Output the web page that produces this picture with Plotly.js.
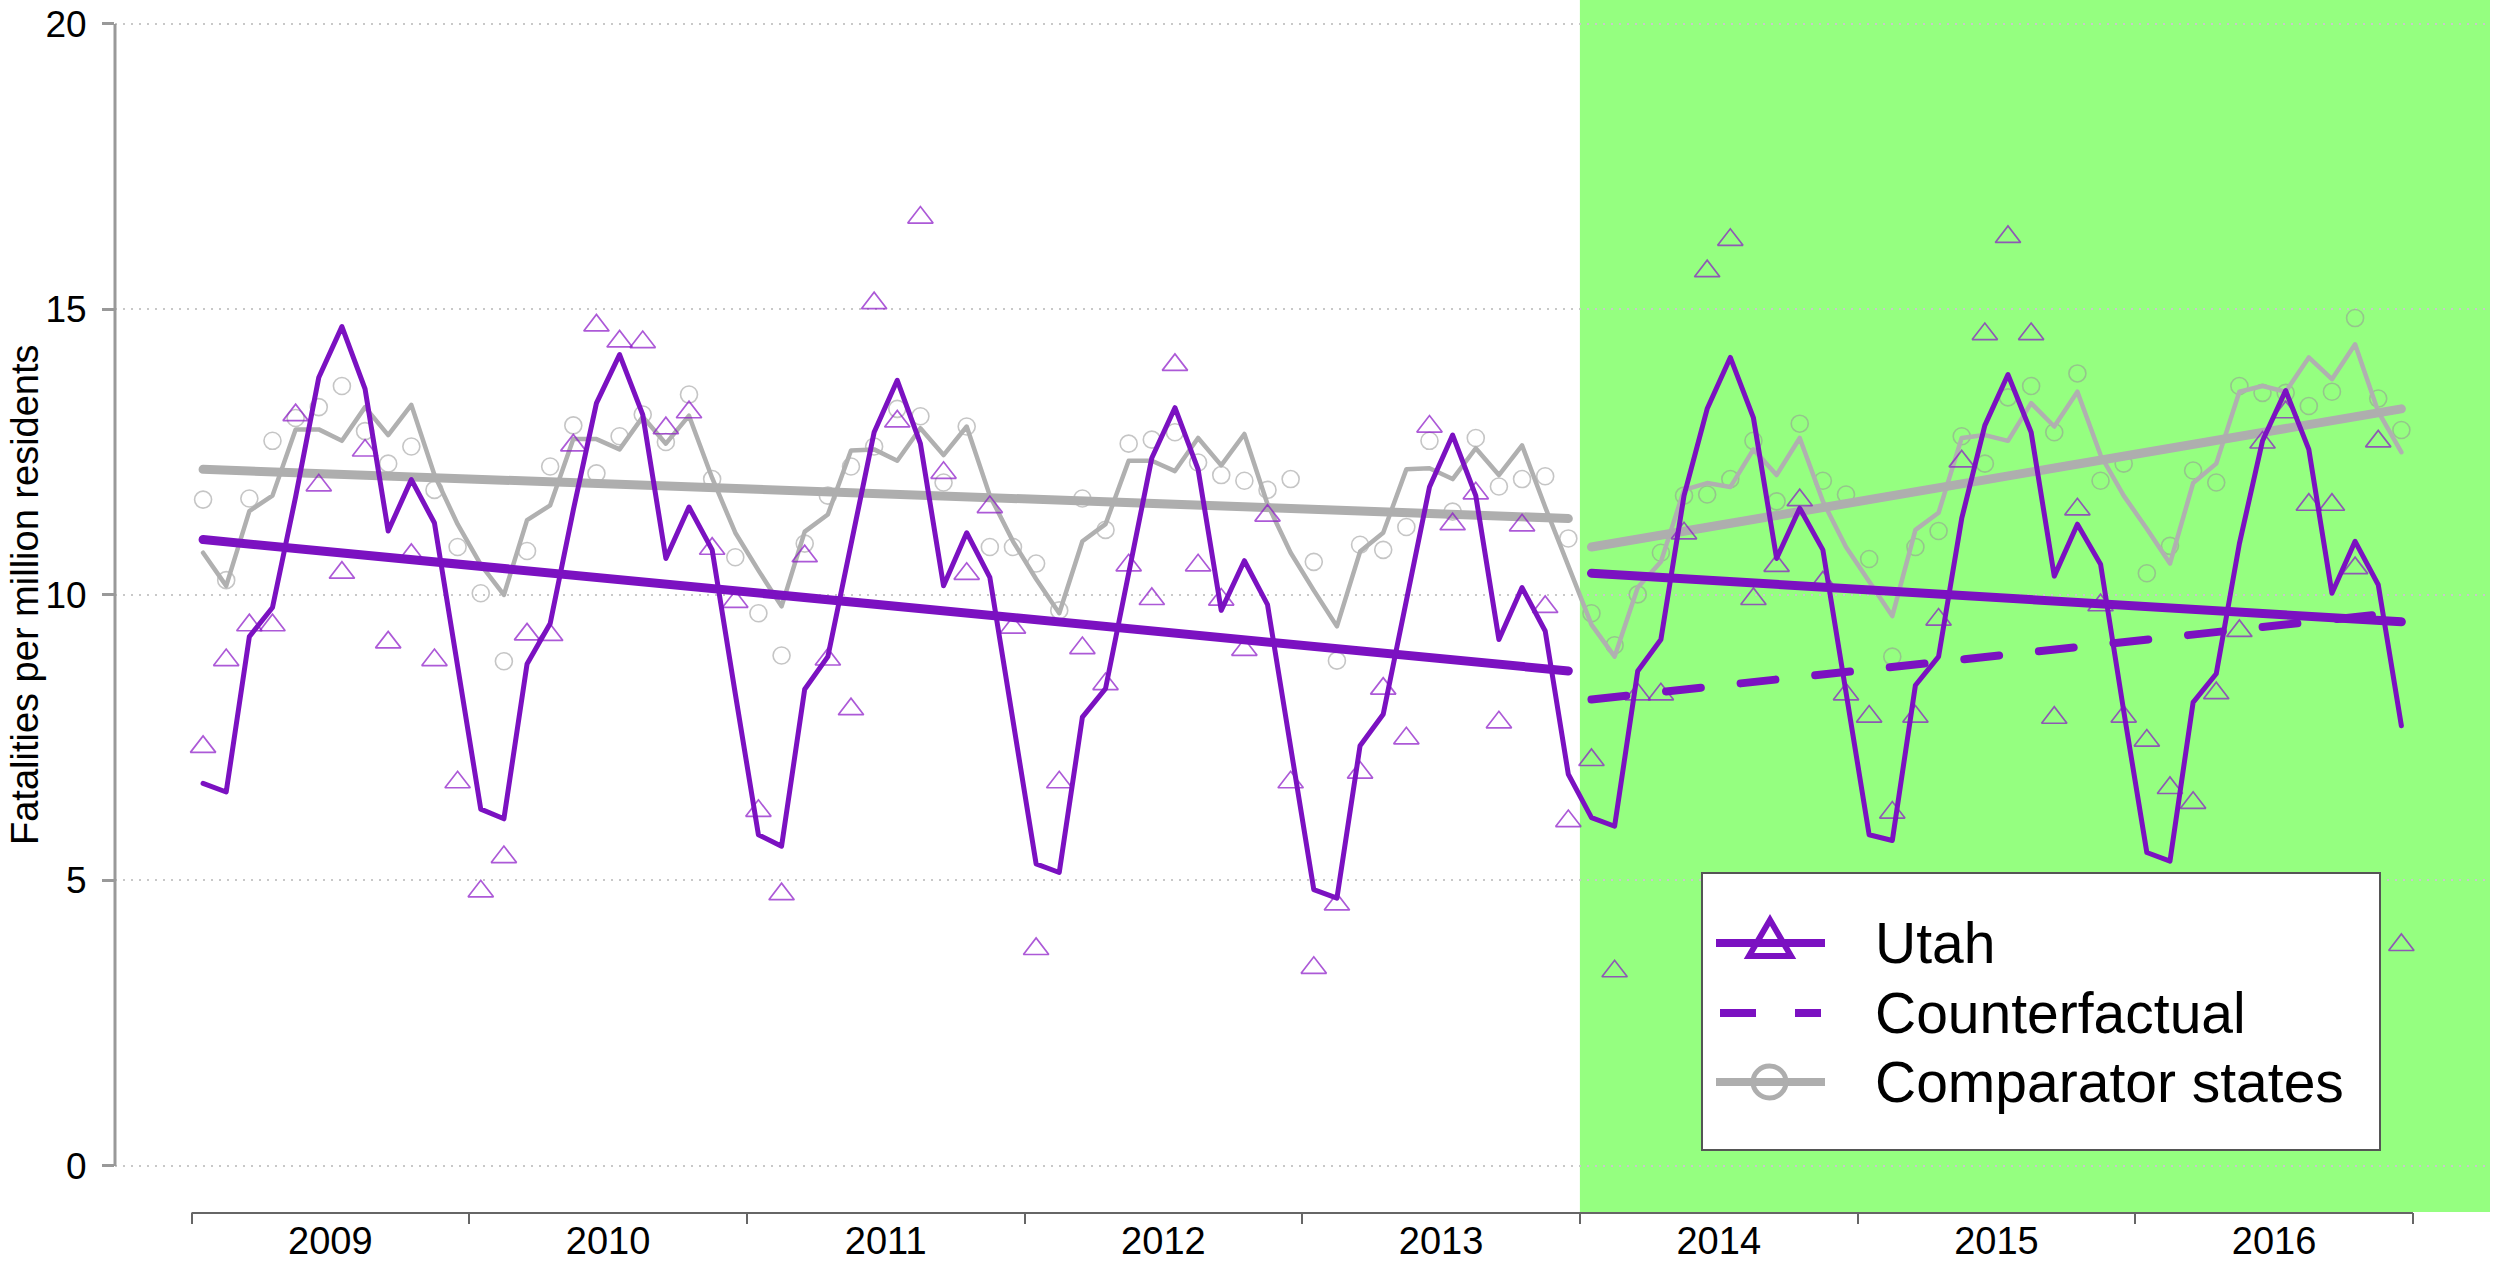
<!DOCTYPE html>
<html>
<head>
<meta charset="utf-8">
<script src="https://cdn.plot.ly/plotly-3.0.1.min.js"></script>
<style>
html,body{margin:0;padding:0;background:#ffffff;}
#chart{width:2503px;height:1261px;}
.js-line{stroke-linecap:round;stroke-linejoin:round;}
</style>
</head>
<body>
<div id="chart"></div>
<script>
// ---------------- DATA ----------------
const years = [2009, 2010, 2011, 2012, 2013, 2014, 2015, 2016];
const yearLabels = ['2009', '2010', '2011', '2012', '2013', '2014', '2015', '2016'];
const interventionYear = 2014;

// Utah, observed monthly fatalities per million (triangles)
const utahObserved = [
  7.34, 8.86, 9.47, 9.47, 13.15, 11.92, 10.39, 12.53, 9.17, 10.70, 8.86, 6.72,
  4.81, 5.41, 9.31, 9.30, 12.62, 14.72, 14.44, 14.43, 12.92, 13.20, 10.81, 9.88,
  6.22, 4.76, 10.68, 8.87, 8.00, 15.11, 13.04, 16.61, 12.14, 10.37, 11.54, 9.43,
  3.80, 6.72, 9.07, 8.44, 10.52, 9.93, 14.03, 10.52, 9.92, 9.04, 11.39, 6.72,
  3.47, 4.58, 6.89, 8.36, 7.49, 12.95, 11.24, 11.78, 7.77, 11.22, 9.79, 6.04,
  7.11, 3.41, 8.26, 8.26, 11.08, 15.67, 16.22, 9.93, 10.51, 11.66, 10.22, 8.26,
  7.87, 6.19, 7.87, 9.57, 12.34, 14.57, 16.27, 14.57, 7.85, 11.50, 9.82, 7.87,
  7.45, 6.62, 6.36, 8.28, 9.37, 12.67, 13.20, 11.58, 11.58, 10.47, 12.69, 3.87
];

// Utah, fitted monthly model (solid purple line)
const utahFitted = [
  6.70, 6.55, 9.27, 9.78, 11.72, 13.81, 14.70, 13.61, 11.12, 12.02, 11.26, 8.77,
  6.25, 6.08, 8.79, 9.50, 11.49, 13.36, 14.21, 13.16, 10.64, 11.54, 10.79, 8.27,
  5.80, 5.60, 8.35, 8.92, 10.85, 12.85, 13.76, 12.65, 10.16, 11.09, 10.31, 7.81,
  5.29, 5.14, 7.86, 8.36, 10.33, 12.40, 13.28, 12.20, 9.73, 10.60, 9.83, 7.31,
  4.84, 4.69, 7.36, 7.91, 9.90, 11.89, 12.80, 11.74, 9.22, 10.13, 9.37, 6.86,
  6.10, 5.95, 8.67, 9.22, 11.74, 13.26, 14.16, 13.10, 10.64, 11.52, 10.79, 8.27,
  5.80, 5.70, 8.42, 8.92, 11.34, 12.97, 13.86, 12.85, 10.33, 11.24, 10.54, 7.97,
  5.49, 5.34, 8.12, 8.62, 10.90, 12.70, 13.58, 12.55, 10.03, 10.94, 10.18, 7.71
];

// Comparator states, observed (circles)
const comparatorObserved = [
  11.67, 10.26, 11.69, 12.70, 13.10, 13.29, 13.66, 12.87, 12.30, 12.60, 11.84, 10.84,
  10.03, 8.84, 10.77, 12.25, 12.97, 12.13, 12.78, 13.16, 12.68, 13.51, 12.03, 10.66,
  9.68, 8.94, 10.90, 11.74, 12.25, 12.60, 13.26, 13.13, 11.97, 12.95, 10.84, 10.84,
  10.55, 9.73, 11.69, 11.14, 12.65, 12.72, 12.85, 12.32, 12.10, 12.00, 11.84, 12.03,
  10.58, 8.85, 10.88, 10.79, 11.19, 12.70, 11.46, 12.75, 11.90, 12.03, 12.08, 10.99,
  9.68, 9.12, 10.01, 10.74, 11.74, 11.76, 12.03, 12.70, 11.64, 13.00, 12.00, 11.76,
  10.63, 8.92, 10.84, 11.12, 12.78, 12.30, 13.46, 13.66, 12.85, 13.88, 12.00, 12.30,
  10.38, 10.86, 12.18, 11.97, 13.66, 13.54, 13.54, 13.31, 13.56, 14.85, 13.44, 12.89
];

// Comparator states, fitted monthly model (thin grey line)
const comparatorFitted = [
  10.74, 10.16, 11.47, 11.74, 12.90, 12.90, 12.70, 13.29, 12.80, 13.33, 12.10, 11.24,
  10.53, 10.00, 11.31, 11.57, 12.73, 12.73, 12.55, 13.12, 12.65, 13.14, 12.05, 11.09,
  10.43, 9.80, 11.11, 11.41, 12.53, 12.55, 12.35, 12.92, 12.45, 12.95, 11.74, 10.94,
  10.28, 9.68, 10.94, 11.24, 12.35, 12.35, 12.17, 12.75, 12.27, 12.82, 11.59, 10.74,
  10.08, 9.45, 10.76, 11.09, 12.20, 12.22, 12.03, 12.57, 12.10, 12.62, 11.54, 10.53,
  9.48, 8.92, 10.13, 10.58, 11.84, 11.96, 11.89, 12.55, 12.10, 12.75, 11.64, 10.84,
  10.23, 9.63, 11.14, 11.44, 12.75, 12.80, 12.70, 13.36, 12.95, 13.56, 12.45, 11.74,
  11.16, 10.55, 11.96, 12.30, 13.56, 13.66, 13.56, 14.16, 13.78, 14.39, 13.21, 12.50
];

// Segmented trend lines (start value, end value) and the month index they span
const trendPreMonths = [0, 59];
const trendPostMonths = [60, 95];
const utahTrendPre = [10.97, 8.67];
const utahTrendPost = [10.38, 9.53];
const comparatorTrendPre = [12.20, 11.34];
const comparatorTrendPost = [10.84, 13.26];
const counterfactualTrend = [8.17, 9.70];

const yTickValues = [0, 5, 10, 15, 20];
const yAxisTitle = 'Fatalities per million residents';
const legendLabels = ['Utah', 'Counterfactual', 'Comparator states'];

// ---------------- STYLE / LAYOUT ----------------
const FONT = 'Liberation Sans, Arial, Helvetica, sans-serif';
const PURPLE = '#7B11C1';
const TRI_COLOR = 'rgba(140,25,200,0.72)';
const GREY_LINE = '#B0B0B0';
const GREY_TREND = '#AEAEAE';
const CIRCLE_COLOR = 'rgba(150,150,150,0.55)';
const GREEN = '#95FF80';

const W = 2503, H = 1261;
const M = {l: 115, r: 13, t: 0, b: 49};
const plotW = W - M.l - M.r, plotH = H - M.t - M.b;
const xRange = [2008.7245, 2017.2775];
const yRange = [-0.806, 20.42];

const monthX = i => years[0] + (i + 0.5) / 12;
const months = utahObserved.map((_, i) => monthX(i));
const preX = trendPreMonths.map(monthX);
const postX = trendPostMonths.map(monthX);
const yearBounds = years.concat([years[years.length - 1] + 1]);
const yearCenters = years.map(y => y + 0.5);

const px2x = px => (px - M.l) / plotW;
const px2y = py => (M.t + plotH - py) / plotH;

const traces = [
  {x: months, y: comparatorObserved, type: 'scatter', mode: 'markers', hoverinfo: 'skip',
   marker: {symbol: 'circle-open', size: 17, color: CIRCLE_COLOR, line: {width: 1.6}}},
  {x: months, y: comparatorFitted, type: 'scatter', mode: 'lines', hoverinfo: 'skip',
   line: {color: GREY_LINE, width: 4.5}},
  {x: preX, y: comparatorTrendPre, type: 'scatter', mode: 'lines', hoverinfo: 'skip',
   line: {color: GREY_TREND, width: 9}},
  {x: postX, y: comparatorTrendPost, type: 'scatter', mode: 'lines', hoverinfo: 'skip',
   line: {color: GREY_TREND, width: 9}},
  {x: months, y: utahObserved, type: 'scatter', mode: 'markers', hoverinfo: 'skip',
   marker: {symbol: 'triangle-up-open', size: 22, color: TRI_COLOR, line: {width: 1.7}}},
  {x: months, y: utahFitted, type: 'scatter', mode: 'lines', hoverinfo: 'skip',
   line: {color: PURPLE, width: 5}},
  {x: preX, y: utahTrendPre, type: 'scatter', mode: 'lines', hoverinfo: 'skip',
   line: {color: PURPLE, width: 9}},
  {x: postX, y: utahTrendPost, type: 'scatter', mode: 'lines', hoverinfo: 'skip',
   line: {color: PURPLE, width: 9}},
  {x: postX, y: counterfactualTrend, type: 'scatter', mode: 'lines', hoverinfo: 'skip',
   line: {color: PURPLE, width: 8, dash: '35px,40px'}},
  // carrier for the year labels axis
  {x: yearCenters, y: yearCenters.map(() => null), xaxis: 'x2', type: 'scatter', mode: 'markers',
   hoverinfo: 'skip', marker: {opacity: 0}}
];

// Legend geometry (pixels)
const LG = {x0: 1702, x1: 2380, y0: 873, y1: 1150, sx0: 1716, sx1: 1825, tx: 1873,
            rows: [943, 1013, 1082]};

const shapes = [
  // intervention period shading
  {type: 'rect', xref: 'x', yref: 'paper', x0: interventionYear, x1: xRange[1], y0: 0, y1: 1,
   fillcolor: GREEN, line: {width: 0}, layer: 'below'},
  // y axis line 0..20
  {type: 'line', xref: 'paper', yref: 'y', x0: 0, x1: 0, y0: yTickValues[0], y1: yTickValues[yTickValues.length - 1],
   line: {color: '#999999', width: 3}, layer: 'above'},
  // x axis line 2009..2017
  {type: 'line', xref: 'x', yref: 'paper', x0: yearBounds[0], x1: yearBounds[yearBounds.length - 1], y0: -0.0008, y1: -0.0008,
   line: {color: '#666666', width: 2}, layer: 'above'},
  // legend box
  {type: 'rect', xref: 'paper', yref: 'paper', x0: px2x(LG.x0), x1: px2x(LG.x1), y0: px2y(LG.y1), y1: px2y(LG.y0),
   fillcolor: '#ffffff', line: {color: '#555555', width: 2}, layer: 'above'},
  // Utah legend symbol
  {type: 'line', xref: 'paper', yref: 'paper', x0: px2x(LG.sx0), x1: px2x(LG.sx1), y0: px2y(LG.rows[0]), y1: px2y(LG.rows[0]),
   line: {color: PURPLE, width: 8}, layer: 'above'},
  {type: 'path', xref: 'paper', yref: 'paper', layer: 'above',
   path: 'M ' + px2x(1749) + ' ' + px2y(956) + ' L ' + px2x(1791) + ' ' + px2y(956) + ' L ' + px2x(1770) + ' ' + px2y(920) + ' Z',
   line: {color: PURPLE, width: 6}, fillcolor: 'rgba(0,0,0,0)'},
  // Counterfactual legend symbol
  {type: 'line', xref: 'paper', yref: 'paper', x0: px2x(LG.sx0 + 4), x1: px2x(LG.sx1 - 4), y0: px2y(LG.rows[1]), y1: px2y(LG.rows[1]),
   line: {color: PURPLE, width: 8, dash: '36px,39px'}, layer: 'above'},
  // Comparator legend symbol
  {type: 'line', xref: 'paper', yref: 'paper', x0: px2x(LG.sx0), x1: px2x(LG.sx1), y0: px2y(LG.rows[2]), y1: px2y(LG.rows[2]),
   line: {color: GREY_TREND, width: 8}, layer: 'above'},
  {type: 'circle', xref: 'paper', yref: 'paper', layer: 'above',
   x0: px2x(1753), x1: px2x(1786), y0: px2y(1098), y1: px2y(1066),
   line: {color: GREY_TREND, width: 5}, fillcolor: 'rgba(0,0,0,0)'}
];

const annotations = [
  {text: yAxisTitle, xref: 'paper', yref: 'paper', x: px2x(25), y: px2y(595), textangle: -90,
   xanchor: 'center', yanchor: 'middle', showarrow: false, font: {family: FONT, size: 38, color: '#000'}}
].concat(legendLabels.map((t, k) => ({
  text: t, xref: 'paper', yref: 'paper', x: px2x(LG.tx), y: px2y(LG.rows[k]), xanchor: 'left', yanchor: 'middle',
  showarrow: false, font: {family: FONT, size: 57, color: '#000'}
})));

const layout = {
  width: W, height: H,
  margin: M,
  paper_bgcolor: '#ffffff', plot_bgcolor: 'rgba(0,0,0,0)',
  showlegend: false,
  font: {family: FONT, color: '#000'},
  xaxis: {range: xRange, tickmode: 'array', tickvals: yearBounds, ticktext: yearBounds.map(() => ''),
          showticklabels: false, ticks: 'outside', ticklen: 11, tickwidth: 2, tickcolor: '#666666',
          showgrid: false, zeroline: false, showline: false, fixedrange: true},
  xaxis2: {overlaying: 'x', side: 'bottom', range: xRange, tickmode: 'array', tickvals: yearCenters, ticktext: yearLabels,
           ticks: '', ticklabelstandoff: 3, tickfont: {family: FONT, size: 38, color: '#000'},
           showgrid: false, zeroline: false, showline: false, fixedrange: true},
  yaxis: {range: yRange, tickmode: 'array', tickvals: yTickValues, ticktext: yTickValues.map(String),
          ticks: 'outside', ticklen: 12, tickwidth: 3, tickcolor: '#999999', ticklabelstandoff: 8,
          tickfont: {family: FONT, size: 37, color: '#000'},
          showgrid: true, gridcolor: '#c8c8c8', gridwidth: 2, griddash: '2px,6px',
          zeroline: false, showline: false, fixedrange: true},
  shapes: shapes,
  annotations: annotations
};

Plotly.newPlot('chart', traces, layout, {displayModeBar: false, staticPlot: true});
</script>
</body>
</html>
